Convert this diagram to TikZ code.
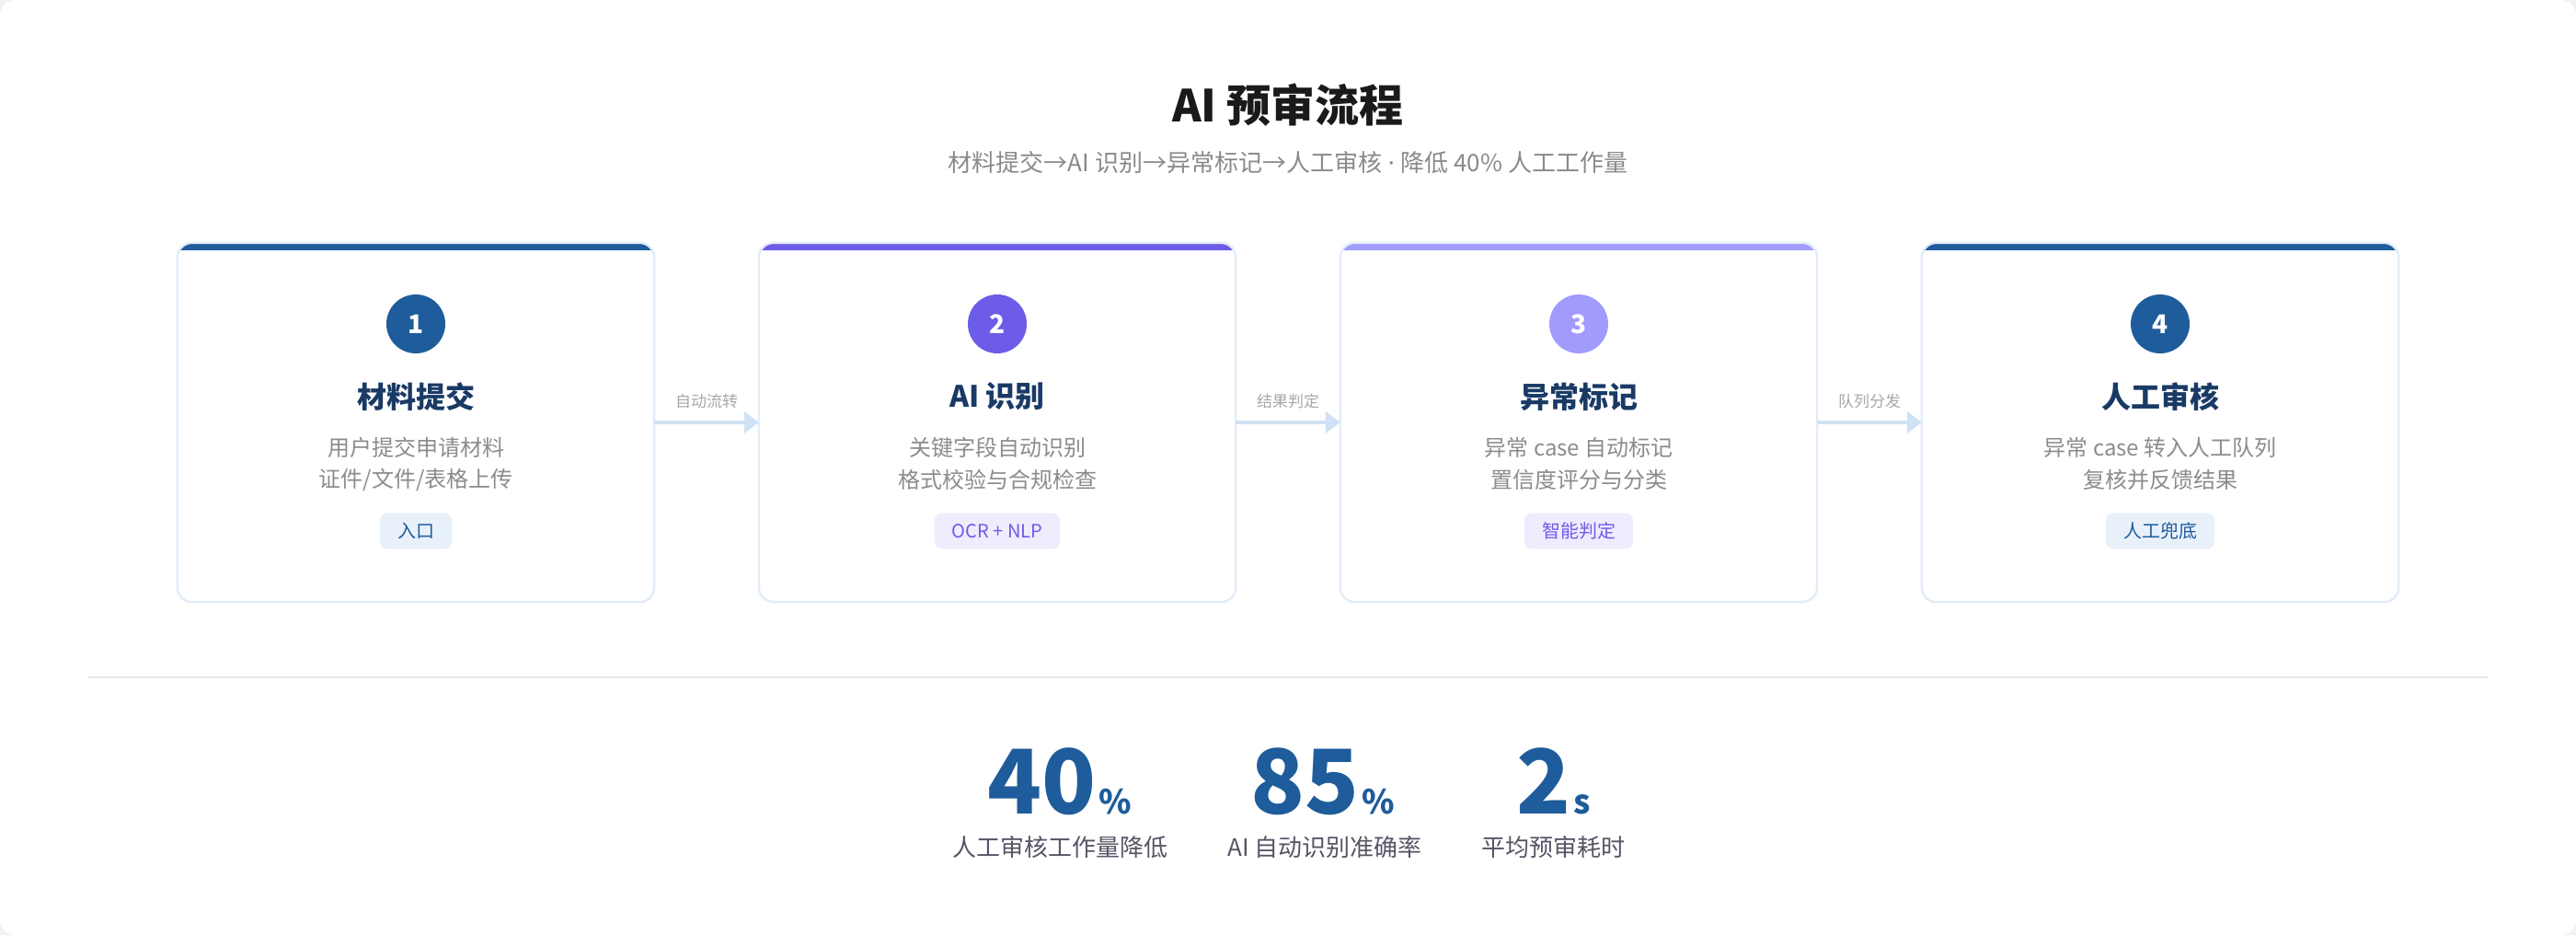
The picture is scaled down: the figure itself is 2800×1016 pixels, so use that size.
\documentclass[tikz,border=0pt]{standalone}
\usepackage{fontspec}
\setmainfont{Noto Sans CJK SC}
\newfontfamily\latinsans{Noto Sans}
\usetikzlibrary{arrows.meta}
\definecolor{outerbg}{HTML}{EEF1F5}
\definecolor{blueA}{HTML}{1E5C9B}
\definecolor{purpleA}{HTML}{6C5CE7}
\definecolor{lavA}{HTML}{A29BFE}
\definecolor{navy}{HTML}{1A3A66}
\definecolor{titleblack}{HTML}{1A1A1A}
\definecolor{subgrey}{HTML}{8A8A8A}
\definecolor{descgrey}{HTML}{8C8C8C}
\definecolor{lbgrey}{HTML}{A8A8A8}
\definecolor{cardedge}{HTML}{E3EDF9}
\definecolor{flowblue}{HTML}{CFE1F4}
\definecolor{tagbgblue}{HTML}{E8F0FA}
\definecolor{tagbgpurple}{HTML}{F0ECFE}
\definecolor{sepgrey}{HTML}{E4E7EC}
\definecolor{statlabel}{HTML}{555566}
\tikzset{
  x=1pt, y=-1pt,
  cardbg/.style={rectangle, fill=white, minimum width=518pt, minimum height=390pt, inner sep=0pt},
  cardline/.style={draw=cardedge, line width=2.5pt, rounded corners=16pt},
  numdot/.style={circle, minimum size=64pt, inner sep=0pt, text=white, font=\fontsize{28}{30}\selectfont\bfseries},
  stagetitle/.style={inner sep=0pt, font=\fontsize{32}{36}\selectfont\bfseries, text=navy},
  stagedesc/.style={inner sep=0pt, font=\fontsize{24}{28}\selectfont, text=descgrey},
  tagbox/.style={rounded corners=8pt, minimum height=39pt, inner xsep=19pt, inner ysep=0pt, font=\fontsize{20}{22}\selectfont},
  tagblue/.style={fill=tagbgblue, text=blueA},
  tagpurple/.style={fill=tagbgpurple, text=purpleA},
  flow/.style={draw=flowblue, line width=4pt, -{Triangle[length=16pt,width=23pt]}},
  flowlabel/.style={inner sep=0pt, font=\fontsize{17}{19}\selectfont, text=lbgrey},
  sepline/.style={draw=sepgrey, line width=2pt},
  statnum/.style={inner sep=0pt, anchor=base, text=blueA},
  statlab/.style={inner sep=0pt, font=\fontsize{26}{30}\selectfont, text=statlabel},
}
\newcommand\stagecard[9]{%
  \node[cardbg] (#1) at (#2,459) {};
  \begin{scope}
    \clip[rounded corners=16pt] (#1.north west) rectangle (#1.south east);
    \fill[#3] (#1.north west) rectangle ([yshift=-8pt]#1.north east);
  \end{scope}
  \draw[cardline] (#1.north west) rectangle (#1.south east);
  \node[numdot, fill=#3] (#1n) at (#2,352) {#4};
  \node[stagetitle] (#1t) at (#2,431) {#5};
  \node[stagedesc] (#1a) at (#2,486) {#6};
  \node[stagedesc] (#1b) at (#2,521) {#7};
  \node[tagbox, #8] (#1g) at (#2,577) {#9};
}
\newcommand\bignum[2]{{\fontsize{97}{100}\selectfont\bfseries #1}\kern3pt{\fontsize{36}{40}\selectfont\bfseries #2}}
\begin{document}
\begin{tikzpicture}
\useasboundingbox (0,0) rectangle (2800,1016);
\fill[outerbg] (0,0) rectangle (2800,1016);
\fill[white, rounded corners=16pt] (0,0) rectangle (2800,1016);

\node[inner sep=0pt, font=\fontsize{48}{52}\selectfont\bfseries, text=titleblack] (title) at (1400,114) {AI 预审流程};
\node[inner sep=0pt, font=\fontsize{26}{30}\selectfont, text=subgrey] (subtitle) at (1400,177) {材料提交→AI 识别→异常标记→人工审核{\latinsans{} · }降低 40\% 人工工作量};

\stagecard{c1}{452}{blueA}{1}{材料提交}{用户提交申请材料}{证件/文件/表格上传}{tagblue}{入口}
\stagecard{c2}{1084}{purpleA}{2}{AI 识别}{关键字段自动识别}{格式校验与合规检查}{tagpurple}{OCR + NLP}
\stagecard{c3}{1716}{lavA}{3}{异常标记}{异常 case 自动标记}{置信度评分与分类}{tagpurple}{智能判定}
\stagecard{c4}{2348}{blueA}{4}{人工审核}{异常 case 转入人工队列}{复核并反馈结果}{tagblue}{人工兜底}

\draw[flow] (c1.east) -- (c2.west) node[flowlabel, midway, yshift=23pt] {自动流转};
\draw[flow] (c2.east) -- (c3.west) node[flowlabel, midway, yshift=23pt] {结果判定};
\draw[flow] (c3.east) -- (c4.west) node[flowlabel, midway, yshift=23pt] {队列分发};

\coordinate (sepL) at (96,736);
\coordinate (sepR) at (2704,736);
\draw[sepline] (sepL) -- (sepR);

\node[statnum] (s1) at (1152,884) {\bignum{40}{\%}};
\node[statnum] (s2) at (1438,884) {\bignum{85}{\%}};
\node[statnum] (s3) at (1689,884) {\bignum{2}{s}};
\node[statlab] (l1) at (1152,921) {人工审核工作量降低};
\node[statlab] (l2) at (1440,921) {AI 自动识别准确率};
\node[statlab] (l3) at (1688,921) {平均预审耗时};
\end{tikzpicture}
\end{document}
